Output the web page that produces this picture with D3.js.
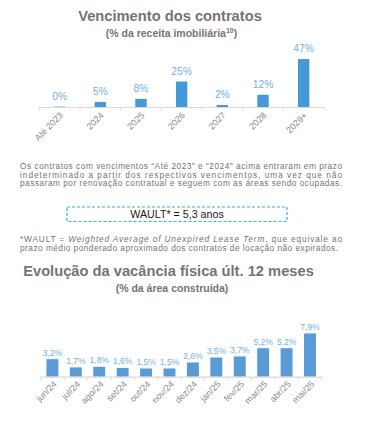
<!DOCTYPE html>
<html lang="pt">
<head>
<meta charset="utf-8">
<style>
  body { margin: 0; background: #fff; }
  svg { display: block; font-family: "Liberation Sans", Arial, sans-serif; }
</style>
<script src="https://cdnjs.cloudflare.com/ajax/libs/d3/7.8.5/d3.min.js"></script>
</head>
<body>
<div id="chart"></div>
<script>
// chart 1 - vencimento dos contratos
var anos = ["Até 2023", "2024", "2025", "2026", "2027", "2028", "2029+"];
var vencimentos = [0.4, 5, 8, 25, 2, 12, 47];
var vencLabels = ["0%", "5%", "8%", "25%", "2%", "12%", "47%"];

// chart 2 - vacancia fisica
var meses = ["jun/24", "jul/24", "ago/24", "set/24", "out/24", "nov/24",
             "dez/24", "jan/25", "fev/25", "mar/25", "abr/25", "mai/25"];
var vacancia = [3.2, 1.7, 1.8, 1.6, 1.5, 1.5, 2.6, 3.5, 3.7, 5.2, 5.2, 7.9];

var textoLinhas = [
  "Os contratos com vencimentos \u201cAté 2023\u201d e \u201c2024\u201d acima entraram em prazo",
  "indeterminado a partir dos respectivos vencimentos, uma vez que não",
  "passaram por renovação contratual e seguem com as áreas sendo ocupadas."
];

var w = 388, h = 447;
var svg = d3.select("#chart").append("svg")
  .attr("width", w)
  .attr("height", h);

var gray = "#777373";
var axisColor = "#d9d9d9";
var labelBlue = "#74b1e6";
var parSize = 8.3;

function titulo(txt, y, size, x) {
  svg.append("text")
    .attr("x", x).attr("y", y)
    .attr("text-anchor", "middle")
    .style("font-weight", "bold")
    .style("font-size", size + "px")
    .style("fill", gray)
    .text(txt);
}

function barChart(cats, vals, labels, opt) {
  var x = d3.scaleBand()
    .domain(cats)
    .range([opt.x0, opt.x1])
    .paddingInner(opt.pad)
    .paddingOuter(opt.pad / 2);

  var y = d3.scaleLinear()
    .domain([0, opt.max])
    .range([opt.base, opt.base - opt.max * opt.pxPer]);

  var g = svg.append("g");

  g.selectAll("rect")
    .data(vals)
    .enter().append("rect")
    .attr("x", function(d, i) { return x(cats[i]); })
    .attr("y", function(d) { return y(d); })
    .attr("width", x.bandwidth())
    .attr("height", function(d) { return opt.base - y(d); })
    .attr("fill", opt.color);

  g.selectAll("text.val")
    .data(vals)
    .enter().append("text")
    .attr("class", "val")
    .attr("x", function(d, i) { return x(cats[i]) + x.bandwidth() / 2; })
    .attr("y", function(d) { return y(d) - opt.labOff; })
    .attr("text-anchor", "middle")
    .style("font-size", opt.labSize + "px")
    .style("fill", labelBlue)
    .text(function(d, i) { return labels[i]; });

  // linha do eixo + ticks
  g.append("line")
    .attr("x1", opt.x0).attr("x2", opt.x1)
    .attr("y1", opt.base + 0.5).attr("y2", opt.base + 0.5)
    .attr("stroke", axisColor).attr("stroke-width", 1.2);

  var step = x.step();
  var ticks = d3.range(cats.length + 1).map(function(i) { return opt.x0 + i * step; });
  g.selectAll("line.tick")
    .data(ticks)
    .enter().append("line")
    .attr("class", "tick")
    .attr("x1", function(d) { return d; }).attr("x2", function(d) { return d; })
    .attr("y1", opt.base).attr("y2", opt.base + 3.5)
    .attr("stroke", axisColor);

  g.selectAll("text.cat")
    .data(cats)
    .enter().append("text")
    .attr("class", "cat")
    .attr("transform", function(d) {
      var cx = x(d) + x.bandwidth() / 2 + opt.catDx;
      return "translate(" + cx + "," + (opt.base + opt.catDy) + ") rotate(-45)";
    })
    .attr("text-anchor", "end")
    .style("font-size", opt.catSize + "px")
    .style("fill", "#8a8a8a")
    .text(function(d) { return d; });
}

titulo("Vencimento dos contratos", 20.5, 14.7, 170);
var sub1 = svg.append("text")
  .attr("x", 171.5).attr("y", 36.5)
  .attr("text-anchor", "middle")
  .style("font-weight", "bold")
  .style("font-size", "10.5px")
  .style("fill", gray);
sub1.append("tspan").text("(% da receita imobiliária");
sub1.append("tspan").attr("dy", -3.5).style("font-size", "7px").text("10");
sub1.append("tspan").attr("dy", 3.5).text(")");

barChart(anos, vencimentos, vencLabels, {
  x0: 39.3, x1: 324, pad: 0.72, base: 107, max: 50, pxPer: 1.02,
  color: "#4499d8", labOff: 7, labSize: 10.3, catDx: 4, catDy: 9, catSize: 9
});

// paragrafo justificado
svg.selectAll("text.par")
  .data(textoLinhas)
  .enter().append("text")
  .attr("class", "par")
  .attr("x", 20)
  .attr("y", function(d, i) { return 169.2 + i * 8.5; })
  .attr("textLength", 322)
  .attr("lengthAdjust", "spacing")
  .style("font-size", parSize + "px")
  .style("fill", gray)
  .text(function(d) { return d; });

// caixa WAULT
svg.append("rect")
  .attr("x", 67).attr("y", 207)
  .attr("width", 220).attr("height", 14.5)
  .attr("fill", "none")
  .attr("stroke", "#3bb0e3")
  .attr("stroke-width", 1.2)
  .attr("stroke-dasharray", "3,2");
svg.append("text")
  .attr("x", 177).attr("y", 218.3)
  .attr("text-anchor", "middle")
  .style("font-size", "10.7px")
  .style("fill", "#1a1a1a")
  .text("WAULT* = 5,3 anos");

var nota = svg.append("text")
  .attr("x", 20).attr("y", 242)
  .attr("textLength", 322)
  .attr("lengthAdjust", "spacing")
  .style("font-size", parSize + "px")
  .style("fill", gray);
nota.append("tspan").text("*WAULT = ");
nota.append("tspan").style("font-style", "italic").text("Weighted Average of Unexpired Lease Term");
nota.append("tspan").text(", que equivale ao");
svg.append("text")
  .attr("x", 20).attr("y", 250.5)
  .attr("textLength", 318)
  .attr("lengthAdjust", "spacing")
  .style("font-size", parSize + "px")
  .style("fill", gray)
  .text("prazo médio ponderado aproximado dos contratos de locação não expirados.");

titulo("Evolução da vacância física últ. 12 meses", 275.7, 14.7, 168.5);
titulo("(% da área construída)", 292.3, 10.5, 172);

barChart(meses, vacancia, vacancia.map(function(v) { return String(v).replace(".", ",") + "%"; }), {
  x0: 40.7, x1: 321.7, pad: 0.49, base: 376.7, max: 8, pxPer: 5.48,
  color: "#5b9bd5", labOff: 3.5, labSize: 8.5, catDx: 5, catDy: 8, catSize: 9
});
</script>
</body>
</html>
